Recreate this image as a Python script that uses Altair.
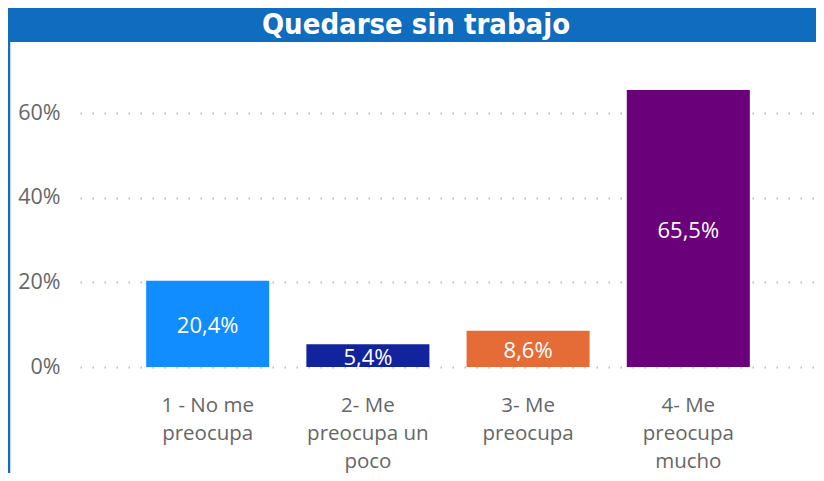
import altair as alt
import pandas as pd

title_text = "Quedarse sin trabajo"
categories = ["1 - No me preocupa", "2- Me preocupa un poco", "3- Me preocupa", "4- Me preocupa mucho"]
label_lines = [["1 - No me", "preocupa"], ["2- Me", "preocupa un", "poco"], ["3- Me", "preocupa"], ["4- Me", "preocupa", "mucho"]]
values = [0.204, 0.054, 0.086, 0.655]
colors = ["#118DFF", "#12239E", "#E66C37", "#6B007B"]

df = pd.DataFrame({
    "cat": ["|".join(l) for l in label_lines],
    "name": categories,
    "value": values,
    "color": colors,
})
order = list(df["cat"])

W, H = 736, 296
PAD_L, PAD_T = 72, 63
TOTAL_W, TOTAL_H = 808, 465
BLUE = "#106CBF"
FONT = "Open Sans"

x = alt.X("cat:N", sort=order, title=None,
          scale=alt.Scale(paddingInner=0.232, paddingOuter=0.413),
          axis=alt.Axis(labelAngle=0, labelExpr="split(datum.label, '|')",
                        labelFontSize=20.5, labelColor="#666666", labelFont=FONT,
                        labelLineHeight=28, labelPadding=28, ticks=False, domain=False,
                        labelBaseline="top"))
y = alt.Y("value:Q", title=None,
          scale=alt.Scale(domain=[0, 0.7], nice=False),
          axis=alt.Axis(values=[0, 0.2, 0.4, 0.6], format=".0%", labelFontSize=21.5,
                        labelColor="#666666", labelFont=FONT, labelPadding=20,
                        ticks=False, domain=False, grid=True, gridColor="#C0C0C0",
                        gridDash=[1.5, 10.5], gridWidth=1.8))

base = alt.Chart(df)
bars = base.mark_bar().encode(
    x=x, y=y,
    color=alt.Color("color:N", scale=None),
)
labels = base.transform_calculate(
    txt="replace(format(datum.value, '.1%'), '.', ',')",
    mid="datum.value / 2",
).mark_text(color="white", fontSize=22, font=FONT, baseline="middle", dy=2).encode(
    x=alt.X("cat:N", sort=order),
    y=alt.Y("mid:Q"),
    text="txt:N",
)

tdf = pd.DataFrame({"t": [title_text]})
title_bg = alt.Chart(tdf).mark_rect(color=BLUE, clip=False).encode(
    x=alt.value(-PAD_L), x2=alt.value(TOTAL_W - PAD_L), y=alt.value(-PAD_T), y2=alt.value(-29)
)
title_txt = alt.Chart(tdf).mark_text(
    color="white", fontSize=29, fontWeight="bold", font="DejaVu Sans Condensed",
    baseline="middle", align="center", clip=False
).encode(x=alt.value(336), y=alt.value(-46), text="t:N")
left_border = alt.Chart(tdf).mark_rule(color=BLUE, strokeWidth=2.5, clip=False).encode(
    x=alt.value(-PAD_L + 1), y=alt.value(-PAD_T), y2=alt.value(TOTAL_H - PAD_T)
)

chart = alt.layer(bars, labels, title_bg, title_txt, left_border).properties(
    width=W, height=H,
    background="white",
    autosize=alt.AutoSizeParams(type="none"),
    padding={"left": PAD_L, "top": PAD_T, "right": TOTAL_W - PAD_L - W, "bottom": TOTAL_H - PAD_T - H},
).configure_view(stroke="transparent", strokeWidth=0)

chart.save("out.html", embed_options={"renderer": "svg", "actions": False})
